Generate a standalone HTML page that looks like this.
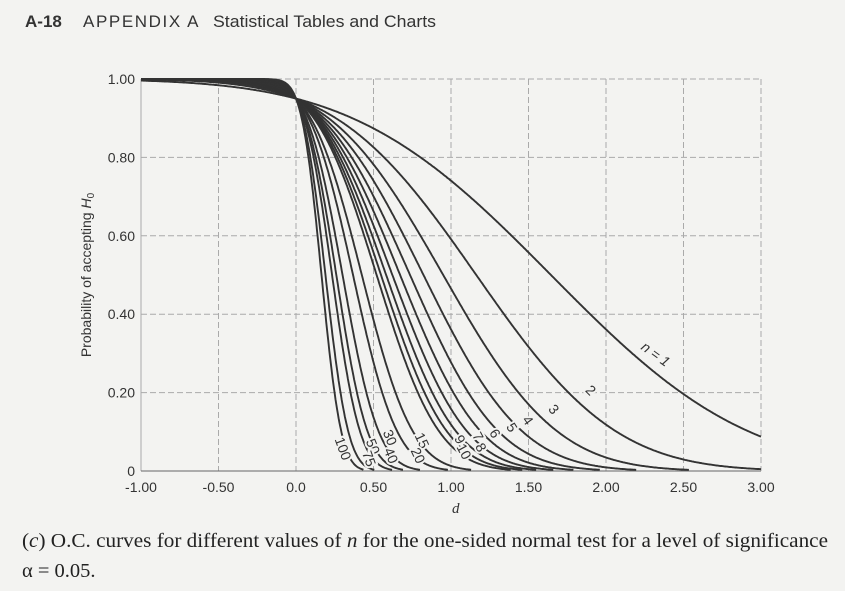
<!DOCTYPE html>
<html><head><meta charset="utf-8"><style>
body{margin:0;background:#f3f3f1;width:845px;height:591px;overflow:hidden;font-family:"Liberation Sans",sans-serif;}
</style></head><body>
<svg id="s" width="845" height="591" xmlns="http://www.w3.org/2000/svg" style="position:absolute;left:0;top:0">
<text x="25" y="27" font-size="17" fill="#333" font-family="Liberation Sans, sans-serif"><tspan font-weight="bold">A-18</tspan><tspan x="83" letter-spacing="1.6">APPENDIX  A</tspan><tspan x="213" textLength="223" lengthAdjust="spacingAndGlyphs">Statistical Tables and Charts</tspan></text>
<g id="grid"></g>
<g id="curves"></g>
<g id="labels" font-size="14" fill="#333"></g>
<text x="0" y="0" transform="translate(91,275) rotate(-90)" text-anchor="middle" font-size="14" fill="#333">Probability of accepting <tspan font-style="italic">H</tspan><tspan font-size="10" dy="3">0</tspan></text>
<text x="452" y="513" font-family="Liberation Serif, serif" font-style="italic" font-size="15" fill="#333">d</text>
<text x="22" y="547" font-family="Liberation Serif, serif" font-size="20.5" fill="#222" textLength="806" lengthAdjust="spacingAndGlyphs">(<tspan font-style="italic">c</tspan>) O.C. curves for different values of <tspan font-style="italic">n</tspan> for the one-sided normal test for a level of significance</text>
<text x="22" y="577" font-family="Liberation Serif, serif" font-size="20.5" fill="#222">α = 0.05.</text>
</svg>
<script>
var NS="http://www.w3.org/2000/svg";
function X(d){return 141+(d+1)*155;}
function Y(p){return 471-p*392;}
function el(t,a,par,txt){var e=document.createElementNS(NS,t);for(var k in a)e.setAttribute(k,a[k]);if(txt!=null)e.textContent=txt;document.getElementById(par).appendChild(e);return e;}
function erf(x){var s=x<0?-1:1;x=Math.abs(x);var t=1/(1+0.3275911*x);var y=1-(((((1.061405429*t-1.453152027)*t)+1.421413741)*t-0.284496736)*t+0.254829592)*t*Math.exp(-x*x);return s*y;}
function Phi(z){return 0.5*(1+erf(z/Math.SQRT2));}
for(var i=0;i<=8;i++){var x=X(-1+i*0.5);el("line",{x1:x,y1:Y(1),x2:x,y2:Y(0),stroke:"#aaa","stroke-width":1,"stroke-dasharray":i==0?"":"6,3"},"grid");
 var lab=["-1.00","-0.50","0.0","0.50","1.00","1.50","2.00","2.50","3.00"][i];
 el("text",{x:x,y:492,"text-anchor":"middle","font-size":14,fill:"#333"},"grid",lab);}
for(var j=0;j<=5;j++){var y=Y(j*0.2);el("line",{x1:X(-1),y1:y,x2:X(3),y2:y,stroke:j==0?"#666":"#aaa","stroke-width":1,"stroke-dasharray":j==0?"":"6,3"},"grid");
 el("text",{x:135,y:y+5,"text-anchor":"end","font-size":14,fill:"#333"},"grid",j==0?"0":(j*0.2).toFixed(2));}
var ns=[1,2,3,4,5,6,7,8,9,10,15,20,30,40,50,75,100];
ns.forEach(function(n){var pts=[];for(var d=-1;d<=3.0001;d+=0.005){var p=Phi(1.645-d*Math.sqrt(n));if(p<0.003&&d>0)break;pts.push(X(d).toFixed(1)+","+Y(p).toFixed(1));}
 el("polyline",{points:pts.join(" "),fill:"none",stroke:"#333","stroke-width":1.9},"curves");});
var L=[["n = 1",655,355,36],["2",590,391,45],["3",553,410,50],["4",527,421,55],["5",511,428,58],["6",494,434,60],["7",477,437,62],["8",480,448,62],["9",459,440,62],["10",463,452,62],["15",421,441,65],["20",417,456,65],["30",389,438,68],["40",390,456,68],["50",372,447,68],["75",368,459,70],["100",342,449,70]];
L.forEach(function(l){el("text",{x:l[1],y:l[2],transform:"rotate("+l[3]+" "+l[1]+" "+l[2]+")","text-anchor":"middle","dominant-baseline":"middle",stroke:"#f3f3f1","stroke-width":4,"paint-order":"stroke","font-style":l[0].length>3?"italic":"normal"},"labels",l[0]);});
</script>
</body></html>
